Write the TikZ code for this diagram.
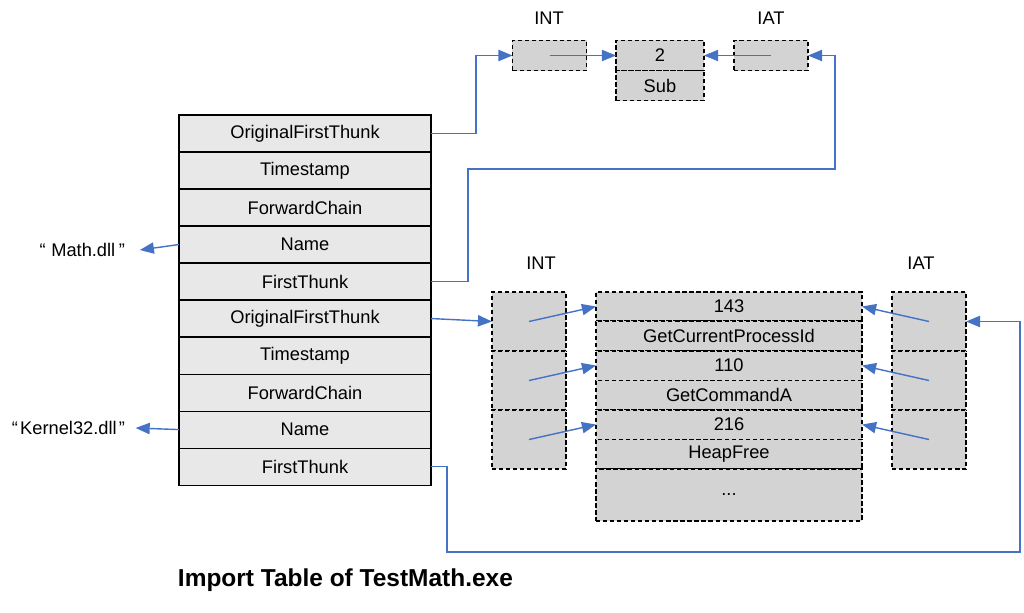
\documentclass[tikz,border=0pt]{standalone}
\usepackage{fontspec}
\setmainfont{Liberation Sans}
\usepackage{tikz}
\usetikzlibrary{arrows.meta,positioning}
\definecolor{linkblue}{RGB}{68,114,196}
\definecolor{rowgray}{RGB}{232,232,232}
\definecolor{slotgray}{RGB}{211,211,211}
\def\boxfont{\fontsize{13}{15}\selectfont}
\tikzstyle{row}=[draw,fill=rowgray,line width=0.8pt,outer sep=0pt,minimum width=6.3cm,minimum height=0.925cm,inner sep=0pt,font=\boxfont]
\tikzstyle{slot}=[draw,fill=slotgray,line width=1.1pt,dash pattern=on 3pt off 2pt,outer sep=0pt,inner sep=0pt,font=\boxfont]
\tikzstyle{topslot}+=[slot,minimum width=1.85cm,minimum height=0.76cm]
\tikzstyle{cell}+=[slot,minimum width=6.65cm,minimum height=0.7375cm]
\tikzstyle{col}+=[slot,minimum width=1.85cm,minimum height=1.475cm]
\tikzstyle{link}=[draw=linkblue,line width=1pt,-{Triangle[length=10pt,width=8pt]}]
\tikzstyle{thin}=[link,line width=0.4pt]
\tikzstyle{lbl}=[font=\boxfont]
\begin{document}
\begin{tikzpicture}[x=0.025cm,y=-0.025cm]
    \useasboundingbox (0,0) rectangle (1024,612);
    % import descriptors
    \node[row] (r1) at (305,133.5) {OriginalFirstThunk};
    \node[row,below=0pt of r1] (r2) {Timestamp};
    \node[row,below=0pt of r2] (r3) {ForwardChain};
    \node[row,below=0pt of r3] (r4) {Name};
    \node[row,below=0pt of r4] (r5) {FirstThunk};
    \node[row,below=0pt of r5] (r6) {OriginalFirstThunk};
    \node[row,below=0pt of r6] (r7) {Timestamp};
    \node[row,below=0pt of r7] (r8) {ForwardChain};
    \node[row,below=0pt of r8] (r9) {Name};
    \node[row,below=0pt of r9] (r10) {FirstThunk};
    \node[lbl,anchor=east] (math) at (130,250) {“\hspace{0.3em}Math.dll\hspace{0.2em}”};
    \node[lbl,anchor=east] (kernel) at (130,428) {“\hspace{0.12em}Kernel32.dll\hspace{0.12em}”};
    % Math.dll thunks
    \node[lbl] (intA) at (549,18) {INT};
    \node[lbl] (iatA) at (771,18) {IAT};
    \node[topslot] (int0) at (549.5,55.5) {};
    \node[topslot,minimum width=2.2cm,minimum height=0.75cm] (two) at (660,55.5) {2};
    \node[topslot,minimum width=2.2cm,minimum height=0.75cm,below=0pt of two] (sub) {Sub};
    \node[topslot] (iat0) at (771,55.5) {};
    % Kernel32.dll thunks
    \node[lbl] (intB) at (541,263) {INT};
    \node[lbl] (iatB) at (921,263) {IAT};
    \node[col] (int1) at (529,321.5) {};
    \node[col,below=0pt of int1] (int2) {};
    \node[col,below=0pt of int2] (int3) {};
    \node[col] (iat1) at (929,321.5) {};
    \node[col,below=0pt of iat1] (iat2) {};
    \node[col,below=0pt of iat2] (iat3) {};
    \node[cell] (h143) at (729,306.5) {143};
    \node[cell,below=0pt of h143] (n143) {GetCurrentProcessId};
    \node[cell,below=0pt of n143] (h110) {110};
    \node[cell,below=0pt of h110] (n110) {GetCommandA};
    \node[cell,below=0pt of n110] (h216) {216};
    \node[cell,below=0pt of h216] (n216) {HeapFree};
    \node[cell,minimum height=1.3cm,below=0pt of n216] (more) {...};
    \node[anchor=west,font=\bfseries\fontsize{17.4}{20}\selectfont] (title) at (173,580) {Import Table of TestMath.exe};
    % connectors
    \draw[link] (r4.west) -- ([xshift=7pt]math.east);
    \draw[link] (r9.west) -- ([xshift=4pt]kernel.east);
    \draw[link] (r1.east) -- ++(45,0) |- (int0.west);
    \draw[link] (r5.east) -- ++(37,0) |- (835,169) |- (iat0.east);
    \draw[thin] (int0.center) -- (two.west);
    \draw[thin] (iat0.center) -- (two.east);
    \draw[link] (r6.east) -- (int1.west);
    \draw[link] (r10.east) -- ++(16,0) |- (1020,552) |- (iat1.east);
    \draw[link] (int1.center) -- (h143.west);
    \draw[link] (int2.center) -- (h110.west);
    \draw[link] (int3.center) -- (h216.west);
    \draw[link] (iat1.center) -- (h143.east);
    \draw[link] (iat2.center) -- (h110.east);
    \draw[link] (iat3.center) -- (h216.east);
  \end{tikzpicture}
\end{document}
